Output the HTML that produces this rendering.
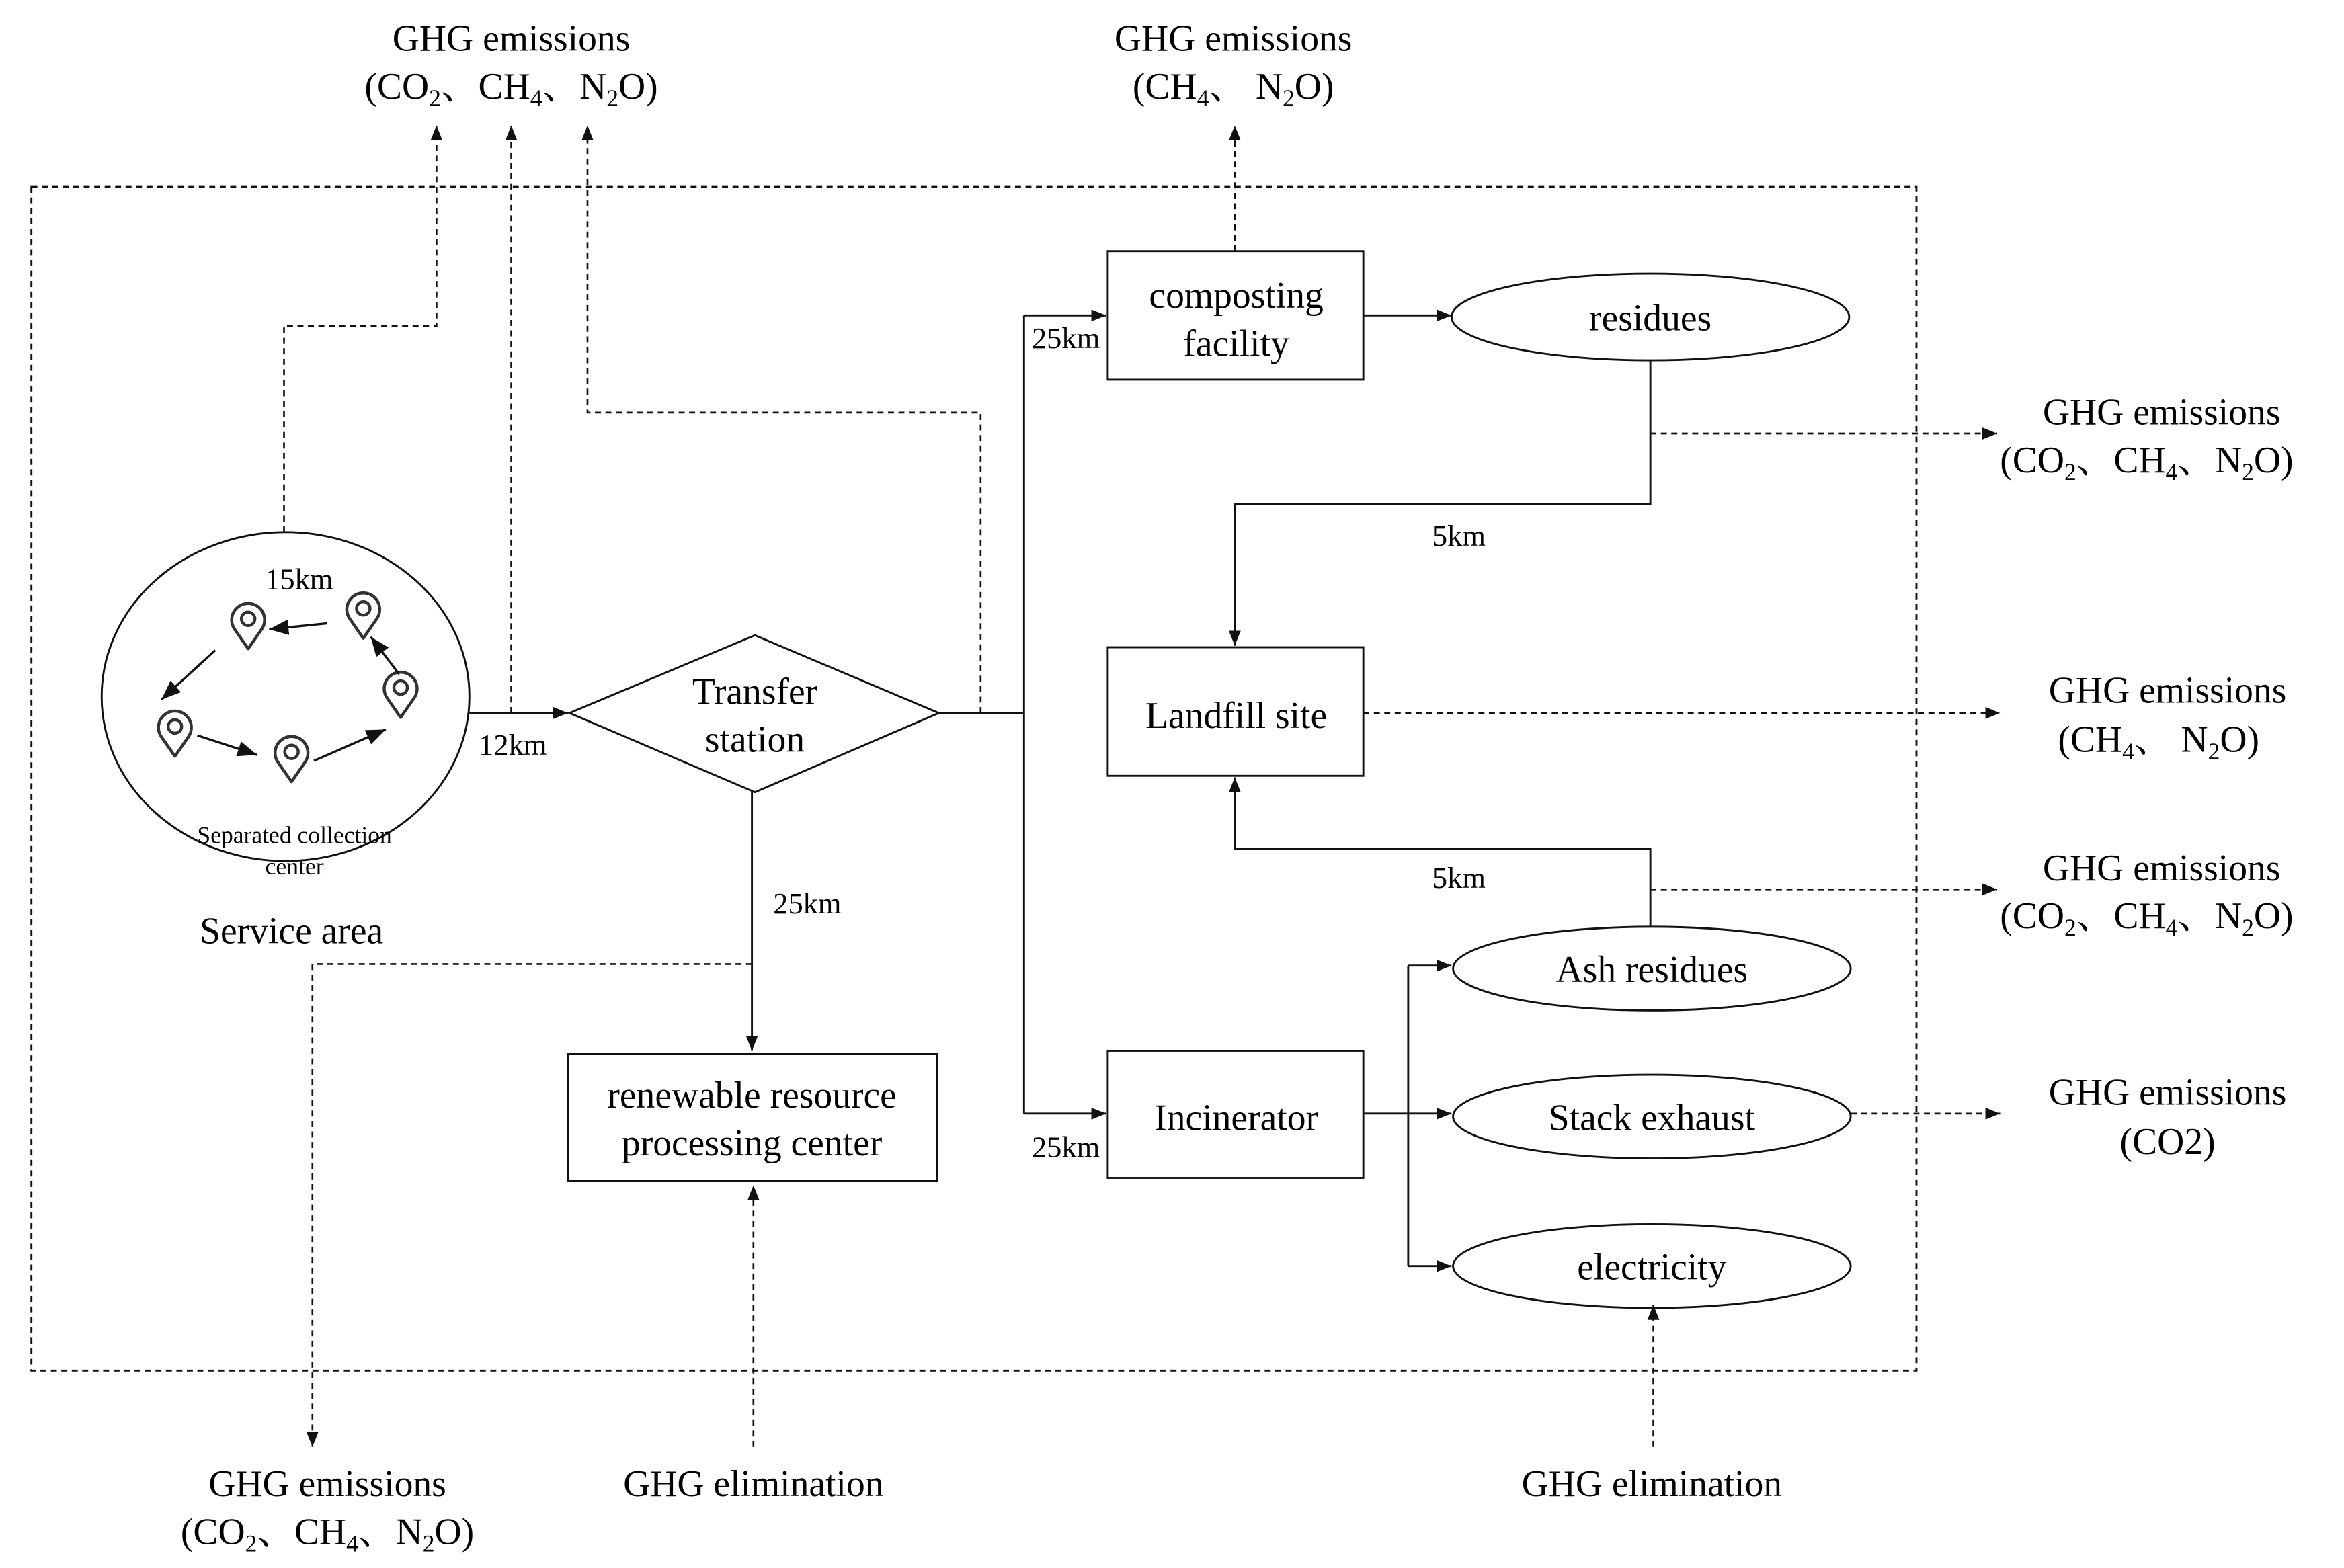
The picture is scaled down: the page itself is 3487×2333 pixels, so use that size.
<!DOCTYPE html>
<html><head><meta charset="utf-8"><style>
html,body{margin:0;padding:0;background:#fff;}
svg{display:block;}
text{font-family:"Liberation Serif","Noto Serif CJK SC",serif;fill:#000;}
</style></head><body>
<svg width="3487" height="2333" viewBox="0 0 1568 1049" xmlns="http://www.w3.org/2000/svg">
<defs>
<marker id="a" viewBox="0 0 10 10" refX="10" refY="5" markerWidth="10" markerHeight="10" orient="auto" markerUnits="userSpaceOnUse"><path d="M0,1 L10,5 L0,9 z" fill="#111"/></marker>
<marker id="b" viewBox="0 0 10 10" refX="10" refY="5" markerWidth="13" markerHeight="13" orient="auto" markerUnits="userSpaceOnUse"><path d="M0,1 L10,5 L0,9 z" fill="#111"/></marker>
<g id="pin"><path d="M0,18 L-9,5 A11,11 0 1 1 9,5 Z" fill="none" stroke="#333" stroke-width="2" stroke-linejoin="round"/><circle cx="0" cy="-2" r="4.5" fill="none" stroke="#333" stroke-width="2"/></g>
</defs>
<g fill="none" stroke="#111" stroke-width="1.3">
<rect x="21" y="125" width="1261" height="792" stroke-dasharray="4,3"/>
<ellipse cx="191" cy="466" rx="123" ry="110"/>
<rect x="741" y="168" width="171" height="86"/>
<rect x="741" y="433" width="171" height="86"/>
<rect x="741" y="703" width="171" height="85"/>
<rect x="380" y="705" width="247" height="85"/>
<polygon points="381,477 505,425 628,477 505,530"/>
<ellipse cx="1104" cy="212" rx="133" ry="29"/>
<ellipse cx="1105" cy="648" rx="133" ry="28"/>
<ellipse cx="1105" cy="747" rx="133" ry="28"/>
<ellipse cx="1105" cy="847" rx="133" ry="28"/>
</g>
<g fill="none" stroke="#111" stroke-width="1.3">
<path d="M314,477 L380,477" marker-end="url(#a)"/>
<path d="M628,477 L685,477"/>
<path d="M685,211 L685,745"/>
<path d="M685,211 L740,211" marker-end="url(#a)"/>
<path d="M685,745 L740,745" marker-end="url(#a)"/>
<path d="M503,530 L503,703" marker-end="url(#a)"/>
<path d="M912,211 L971,211" marker-end="url(#a)"/>
<path d="M1104,241 L1104,337 L826,337 L826,432" marker-end="url(#a)"/>
<path d="M1104,620 L1104,568 L826,568 L826,520" marker-end="url(#a)"/>
<path d="M912,745 L942,745"/>
<path d="M942,646 L942,847"/>
<path d="M942,646 L971,646" marker-end="url(#a)"/>
<path d="M942,745 L971,745" marker-end="url(#a)"/>
<path d="M942,847 L971,847" marker-end="url(#a)"/>
</g>
<g fill="none" stroke="#111" stroke-width="1.2" stroke-dasharray="4,3">
<path d="M190,356 L190,218 L292,218 L292,84" marker-end="url(#a)"/>
<path d="M342,477 L342,84" marker-end="url(#a)"/>
<path d="M656,477 L656,276 L393,276 L393,84" marker-end="url(#a)"/>
<path d="M826,168 L826,84" marker-end="url(#a)"/>
<path d="M1104,290 L1336,290" marker-end="url(#a)"/>
<path d="M912,477 L1338,477" marker-end="url(#a)"/>
<path d="M1104,595 L1336,595" marker-end="url(#a)"/>
<path d="M1238,745 L1338,745" marker-end="url(#a)"/>
<path d="M503,645 L209,645 L209,968" marker-end="url(#a)"/>
<path d="M504,968 L504,793" marker-end="url(#a)"/>
<path d="M1106,968 L1106,873" marker-end="url(#a)"/>
</g>
<use href="#pin" x="166" y="416"/>
<use href="#pin" x="243" y="409"/>
<use href="#pin" x="268" y="462"/>
<use href="#pin" x="117" y="488"/>
<use href="#pin" x="195" y="505"/>
<g stroke="#111" stroke-width="1.5" fill="none">
<path d="M219,417 L180,421" marker-end="url(#b)"/>
<path d="M144,435 L108,468" marker-end="url(#b)"/>
<path d="M132,492 L172,505" marker-end="url(#b)"/>
<path d="M210,509 L258,488" marker-end="url(#b)"/>
<path d="M267,451 L248,426" marker-end="url(#b)"/>
</g>
<g font-size="25" text-anchor="middle">
<text x="342" y="34">GHG emissions</text>
<text x="342" y="66">(CO<tspan font-size="16" dy="5">2</tspan><tspan dy="-5">、CH</tspan><tspan font-size="16" dy="5">4</tspan><tspan dy="-5">、N</tspan><tspan font-size="16" dy="5">2</tspan><tspan dy="-5">O)</tspan></text>
<text x="825" y="34">GHG emissions</text>
<text x="825" y="66">(CH<tspan font-size="16" dy="5">4</tspan><tspan dy="-5">、 N</tspan><tspan font-size="16" dy="5">2</tspan><tspan dy="-5">O)</tspan></text>
<text x="1446" y="284">GHG emissions</text>
<text x="1436" y="316">(CO<tspan font-size="16" dy="5">2</tspan><tspan dy="-5">、CH</tspan><tspan font-size="16" dy="5">4</tspan><tspan dy="-5">、N</tspan><tspan font-size="16" dy="5">2</tspan><tspan dy="-5">O)</tspan></text>
<text x="1450" y="470">GHG emissions</text>
<text x="1444" y="503">(CH<tspan font-size="16" dy="5">4</tspan><tspan dy="-5">、 N</tspan><tspan font-size="16" dy="5">2</tspan><tspan dy="-5">O)</tspan></text>
<text x="1446" y="589">GHG emissions</text>
<text x="1436" y="621">(CO<tspan font-size="16" dy="5">2</tspan><tspan dy="-5">、CH</tspan><tspan font-size="16" dy="5">4</tspan><tspan dy="-5">、N</tspan><tspan font-size="16" dy="5">2</tspan><tspan dy="-5">O)</tspan></text>
<text x="1450" y="739">GHG emissions</text>
<text x="1450" y="772">(CO2)</text>
<text x="219" y="1001">GHG emissions</text>
<text x="219" y="1033">(CO<tspan font-size="16" dy="5">2</tspan><tspan dy="-5">、CH</tspan><tspan font-size="16" dy="5">4</tspan><tspan dy="-5">、N</tspan><tspan font-size="16" dy="5">2</tspan><tspan dy="-5">O)</tspan></text>
<text x="504" y="1001">GHG elimination</text>
<text x="1105" y="1001">GHG elimination</text>
<text x="827" y="206">composting</text>
<text x="827" y="238">facility</text>
<text x="1104" y="221">residues</text>
<text x="827" y="487">Landfill site</text>
<text x="827" y="756">Incinerator</text>
<text x="503" y="741">renewable resource</text>
<text x="503" y="773">processing center</text>
<text x="505" y="471">Transfer</text>
<text x="505" y="503">station</text>
<text x="1105" y="657">Ash residues</text>
<text x="1105" y="756">Stack exhaust</text>
<text x="1105" y="856">electricity</text>
<text x="195" y="631">Service area</text>
</g>
<g font-size="20" text-anchor="middle">
<text x="343" y="505">12km</text>
<text x="713" y="233">25km</text>
<text x="713" y="774">25km</text>
<text x="540" y="611">25km</text>
<text x="976" y="365">5km</text>
<text x="976" y="594">5km</text>
<text x="200" y="394">15km</text>
</g>
<g font-size="16" text-anchor="middle">
<text x="197" y="564">Separated collection</text>
<text x="197" y="585">center</text>
</g>
</svg>
</body></html>
